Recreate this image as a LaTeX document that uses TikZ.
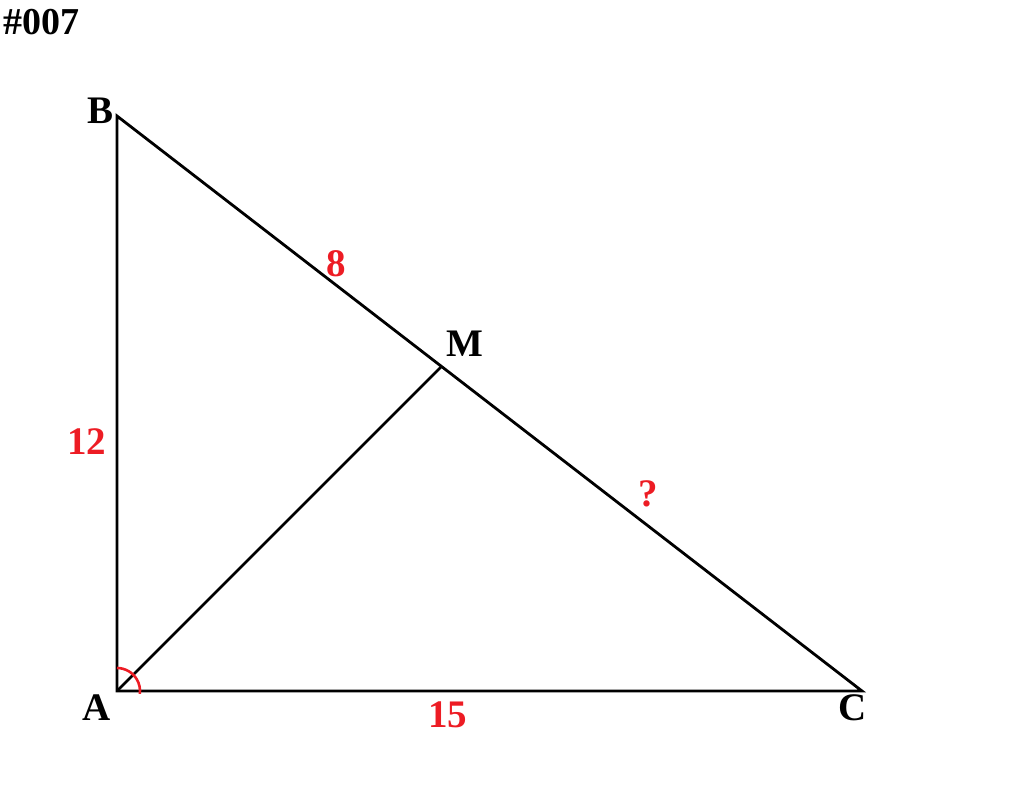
\documentclass[tikz,border=0pt]{standalone}
\usepackage{fontspec}
\setmainfont{Liberation Serif}
\usetikzlibrary{calc}
\definecolor{pred}{RGB}{237,28,36}
\begin{document}
\begin{tikzpicture}[x=1pt,y=-1pt,
  lbl/.style={font=\fontsize{39}{44}\selectfont\bfseries, inner sep=0pt},
  num/.style={font=\fontsize{39}{44}\selectfont\bfseries, text=pred, inner sep=0pt},
  side/.style={line width=2.8pt}]
\useasboundingbox (0,0) rectangle (1024,800);
\coordinate (A) at (117,691);
\coordinate (B) at (117,116);
\coordinate (C) at (862,691);
\coordinate (M) at (441,367);
\draw[side] (B) -- (A) -- (C) -- cycle;
\draw[side] (A) -- (M);
\draw[pred, line width=2.6pt] ($(A)+(0,-23)$) arc[start angle=270, end angle=367, radius=23];
\node[lbl, font=\fontsize{38}{42}\selectfont\bfseries] (t) at (41.5,22.5) {\#007};
\node[lbl] (lB) at (101,111) {B};
\node[lbl] (lA) at (97,708) {A};
\node[lbl] (lC) at (852.5,708) {C};
\node[lbl] (lM) at (464.5,344) {M};
\node[num] (n8) at (336,263.5) {8};
\node[num] (n12) at (86.5,441.5) {12};
\node[num] (nq) at (648.5,493.5) {?};
\node[num] (n15) at (447.5,714.5) {15};
\end{tikzpicture}
\end{document}
